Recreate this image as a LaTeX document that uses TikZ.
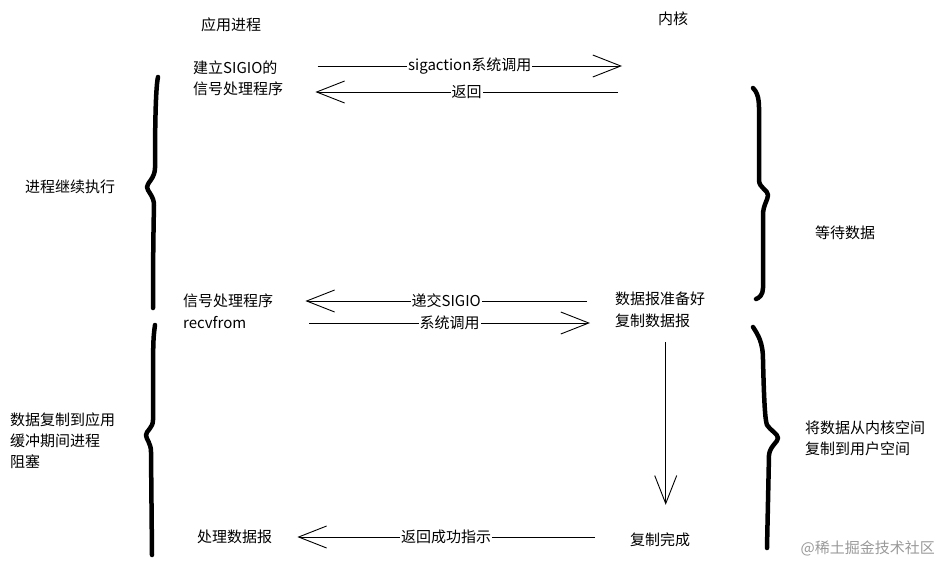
\documentclass[tikz,border=0pt]{standalone}
\usepackage{fontspec}
\usepackage{xcolor}
\setmainfont{Noto Sans CJK SC}
\usetikzlibrary{positioning, arrows.meta}

\begin{document}
\begin{tikzpicture}[x=1pt,y=-1pt,
    main/.style = {anchor=west, inner sep=0pt, font=\fontsize{15}{21}\selectfont},
    multi/.style = {main, align=left},
    arr/.style = {line width=0.9pt, -{Straight Barb[length=28pt, width=22pt, line width=0.9pt]}},
    tag/.style = {midway, fill=white, inner sep=1pt, font=\fontsize{15}{18}\selectfont},
    brace/.style = {line width=4.5pt, line cap=round, line join=round}]
    \useasboundingbox (0,0) rectangle (942,565);
    % column titles
    \node[main, anchor=center] (app) at (231,25) {应用进程};
    \node[main, anchor=center] (kern) at (673,19) {内核};
    % application side
    \node[main] (setup1) at (193,68) {建立SIGIO的};
    \node[main] (setup2) at (193,89) {信号处理程序};
    \node[main] (handler) at (183,301) {信号处理程序};
    \node[main] (recv) at (183,323) {recvfrom};
    \node[main] (process) at (197,537) {处理数据报};
    % kernel side
    \node[main] (ready) at (615,299) {数据报准备好};
    \node[main] (copy) at (615,321) {复制数据报};
    \node[main] (done) at (630,540) {复制完成};
    \coordinate (k1) at (622,66);
    \coordinate (k2) at (618,92);
    % brace labels
    \node[main] (cont) at (25,187) {进程继续执行};
    \node[multi] (block) at (10,441) {数据复制到应用\\缓冲期间进程\\阻塞};
    \node[main] (wait) at (815,233) {等待数据};
    \node[multi] (move) at (805,438) {将数据从内核空间\\复制到用户空间};
    \node[main, anchor=east, text=black!40] (mark) at (935,548) {@稀土掘金技术社区};
    % messages
    \draw[arr] ([xshift=40pt]setup1.east |- k1) -- (k1) node[tag] {sigaction系统调用};
    \draw[arr] (k2) -- ([xshift=32pt]setup2.east |- k2) node[tag] {返回};
    \draw[arr] ([xshift=-28pt]ready.west |- handler) -- ([xshift=32pt]handler.east) node[tag] {递交SIGIO};
    \draw[arr] ([xshift=63pt]recv.east) -- ([xshift=-25pt]copy.west |- recv) node[tag] {系统调用};
    \draw[arr] ([xshift=13pt, yshift=-14pt]copy.south) -- ([xshift=13pt, yshift=28pt]copy.south |- done.north);
    \draw[arr] ([xshift=-35pt]done.west |- process) -- ([xshift=25pt]process.east) node[tag] {返回成功指示};
    % braces
    \draw[brace] (158,77) .. controls (155,90) and (155,150) .. (155,168)
        .. controls (155,178) and (147,183) .. (147,187)
        .. controls (147,191) and (154,196) .. (154,205)
        .. controls (153,250) and (153,290) .. (153,308);
    \draw[brace] (155,325) .. controls (153,340) .. (153,420)
        .. controls (153,428) and (146,431) .. (146,435)
        .. controls (146,439) and (151,443) .. (151,452)
        -- (152,555);
    \draw[brace] (753,88) .. controls (760,95) and (759,105) .. (759,120)
        -- (759,180) .. controls (759,188) and (768,190) .. (768,195)
        .. controls (768,200) and (763,205) .. (763,215)
        -- (763,288) .. controls (763,295) and (759,298) .. (756,299);
    \draw[brace] (753,327) .. controls (758,335) and (763,342) .. (763,360)
        .. controls (764,400) and (765,420) .. (767,425)
        .. controls (770,430) and (778,434) .. (778,438)
        .. controls (778,442) and (770,446) .. (769,455)
        -- (767,548);
\end{tikzpicture}
\end{document}
